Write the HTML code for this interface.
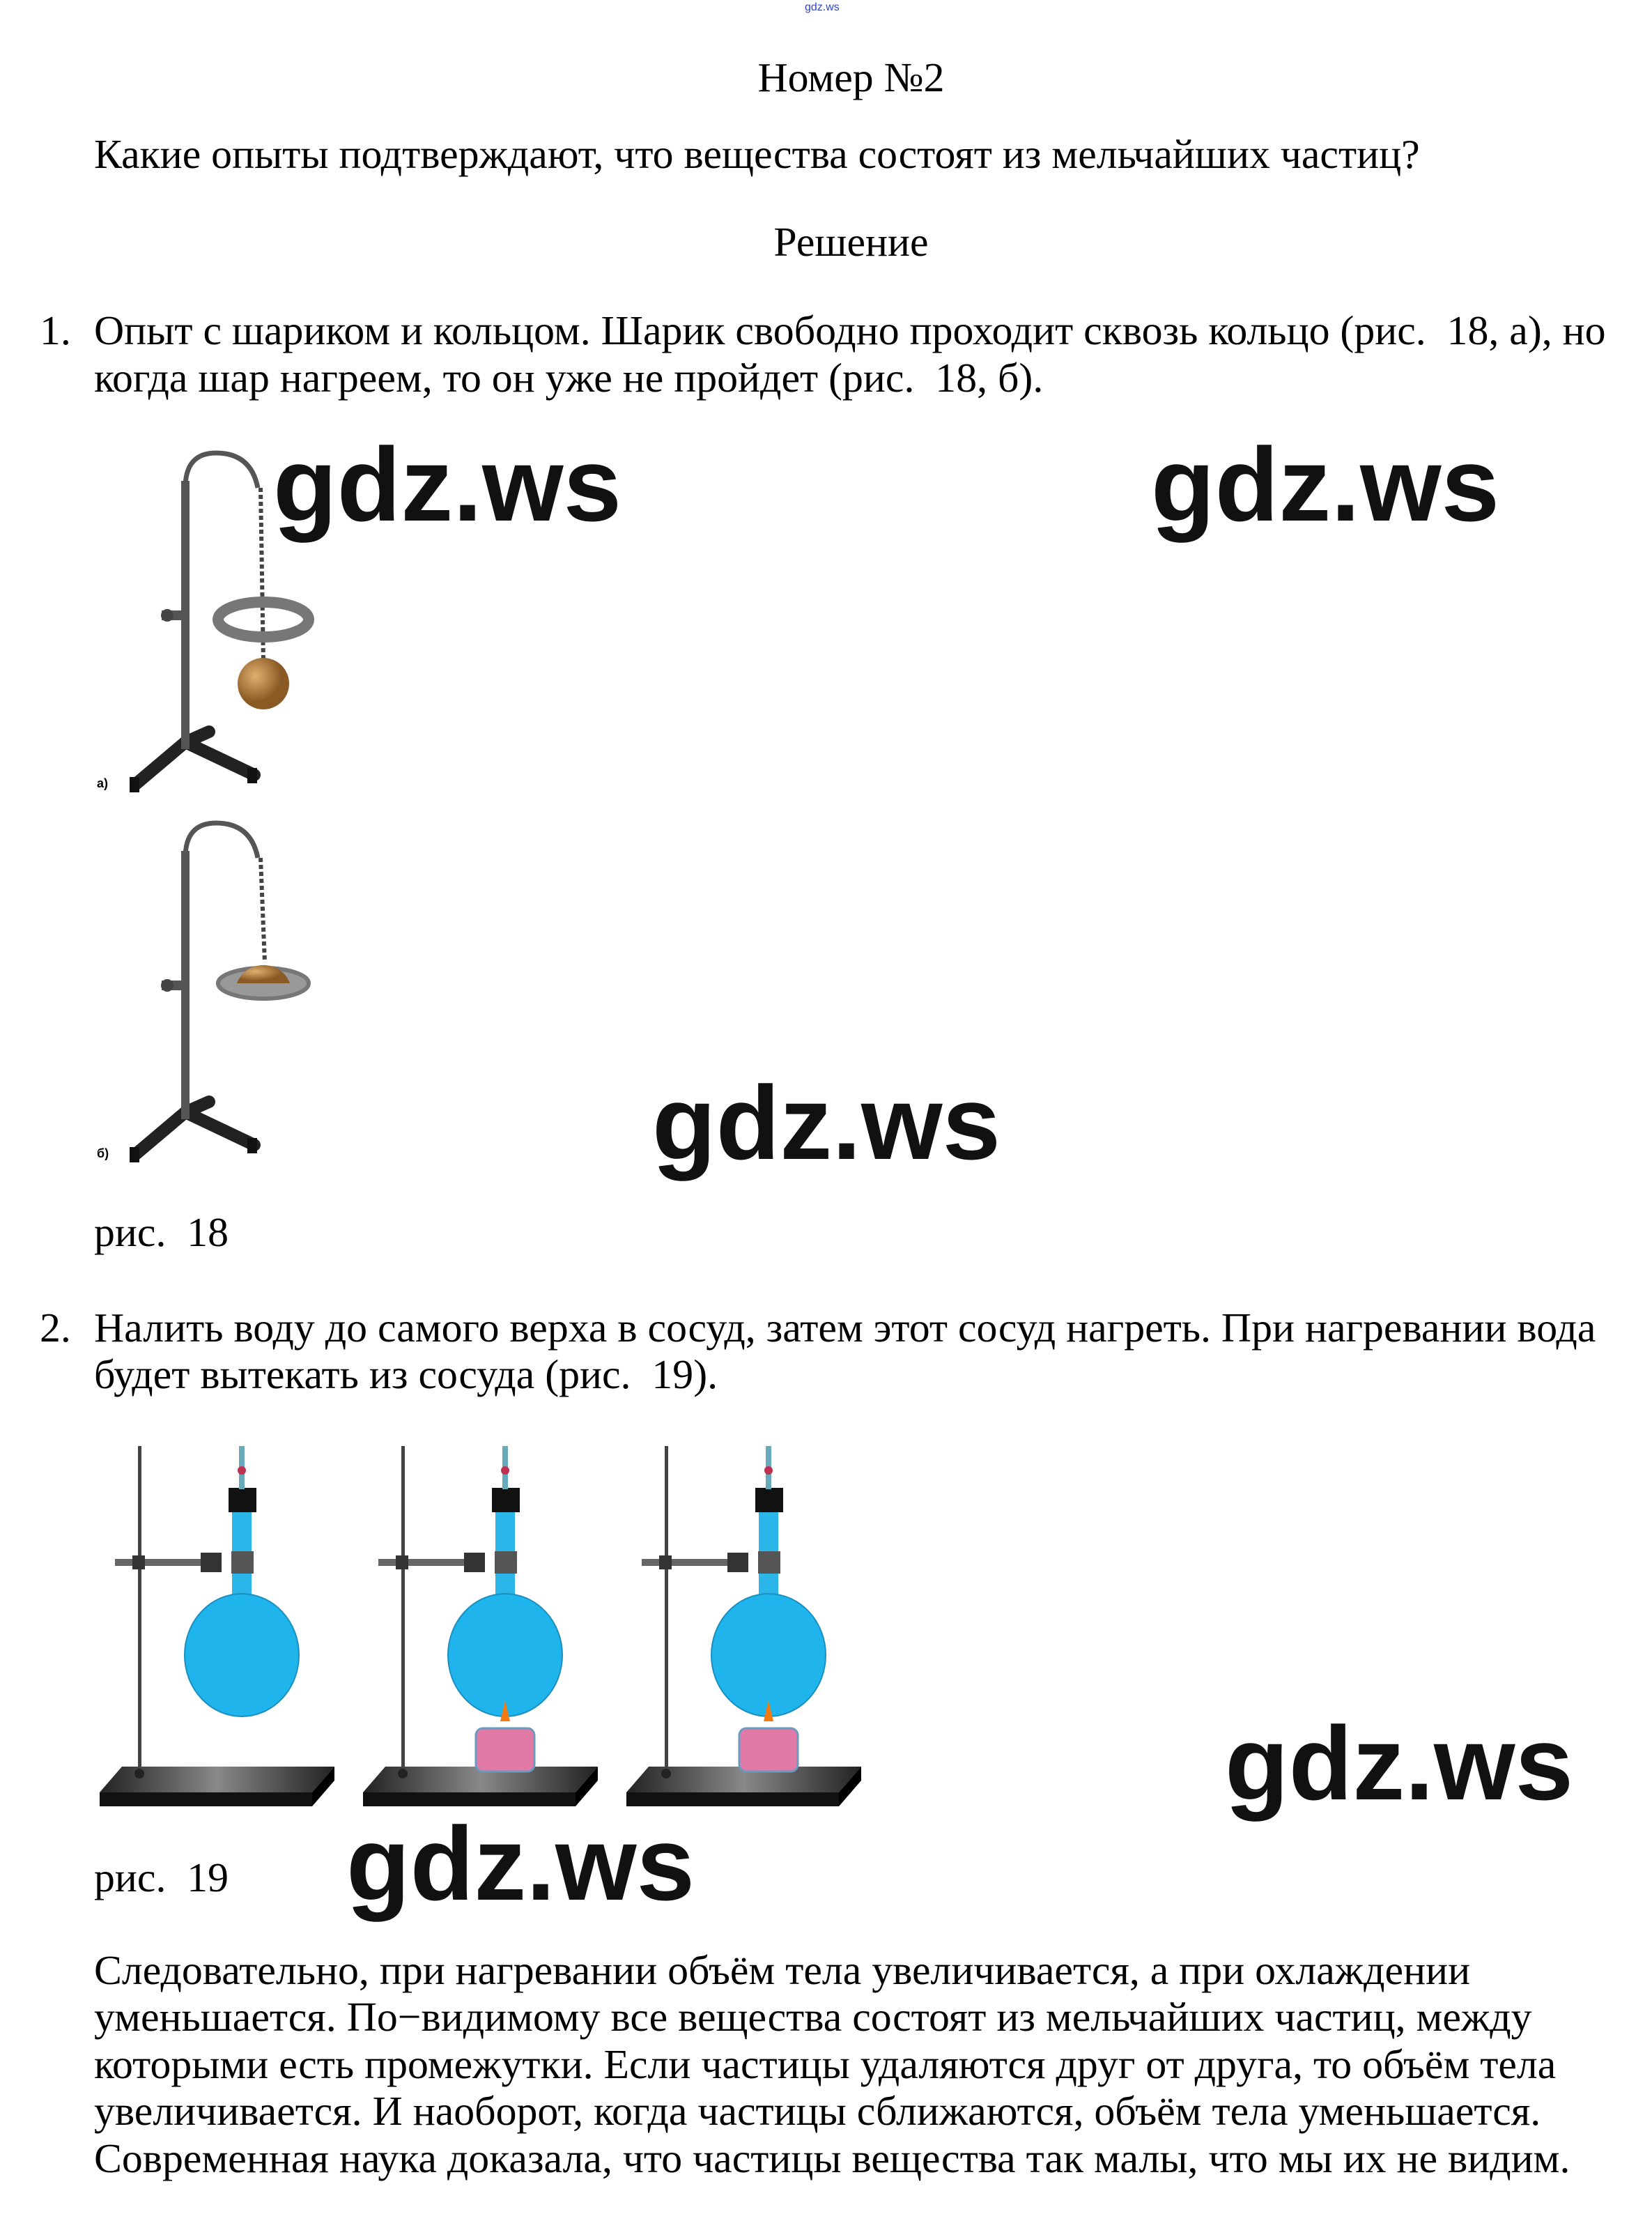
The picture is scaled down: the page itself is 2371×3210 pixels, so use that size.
<!DOCTYPE html>
<html><head><meta charset="utf-8"><style>
html,body{margin:0;padding:0;background:#fff}
body{width:2371px;height:3210px;position:relative;overflow:hidden;font-family:"Liberation Serif",serif;color:#000}
.t{position:absolute;font-size:59.8px;line-height:68px;white-space:nowrap}
.c{left:0;width:2371px;text-align:center}
.w{position:absolute;font-family:"Liberation Sans",sans-serif;font-weight:bold;font-size:150px;line-height:150px;white-space:nowrap;color:#111}
svg{position:absolute;left:0;top:0}
</style></head><body>
<div style="position:absolute;left:1155px;top:2px;font-size:16px;color:#3344cc;font-family:'Liberation Sans',sans-serif">gdz.ws</div>
<div class="t c" style="top:77px;left:36px">Номер №2</div>
<div class="t" style="left:135px;top:187px">Какие опыты подтверждают, что вещества состоят из мельчайших частиц?</div>
<div class="t c" style="top:313px;left:36px">Решение</div>
<div class="t" style="left:57px;top:440px">1.</div>
<div class="t" style="left:135px;top:440px">Опыт с шариком и кольцом. Шарик свободно проходит сквозь кольцо (рис.&nbsp; 18, а), но</div>
<div class="t" style="left:135px;top:508px">когда шар нагреем, то он уже не пройдет (рис.&nbsp; 18, б).</div>
<div class="t" style="left:135px;top:1734px">рис.&nbsp; 18</div>
<div class="t" style="left:57px;top:1871px">2.</div>
<div class="t" style="left:135px;top:1871px">Налить воду до самого верха в сосуд, затем этот сосуд нагреть. При нагревании вода</div>
<div class="t" style="left:135px;top:1938px">будет вытекать из сосуда (рис.&nbsp; 19).</div>
<div class="t" style="left:135px;top:2660px">рис.&nbsp; 19</div>
<div class="t" style="left:135px;top:2793px">Следовательно, при нагревании объём тела увеличивается, а при охлаждении</div>
<div class="t" style="left:135px;top:2860px">уменьшается. По−видимому все вещества состоят из мельчайших частиц, между</div>
<div class="t" style="left:135px;top:2928px">которыми есть промежутки. Если частицы удаляются друг от друга, то объём тела</div>
<div class="t" style="left:135px;top:2995px">увеличивается. И наоборот, когда частицы сближаются, объём тела уменьшается.</div>
<div class="t" style="left:135px;top:3063px">Современная наука доказала, что частицы вещества так малы, что мы их не видим.</div>

<svg width="2371" height="3210" viewBox="0 0 2371 3210">
<defs>
<radialGradient id="ball" cx="0.35" cy="0.35"><stop offset="0" stop-color="#e0b070"/><stop offset="1" stop-color="#8a5a25"/></radialGradient>
<linearGradient id="base" x1="0" x2="1"><stop offset="0" stop-color="#222"/><stop offset="0.5" stop-color="#888"/><stop offset="1" stop-color="#222"/></linearGradient>
<g id="s18">
<g stroke="#222" stroke-width="18" stroke-linecap="round" fill="none">
<line x1="266" y1="1065" x2="195" y2="1125"/>
<line x1="266" y1="1065" x2="365" y2="1112"/>
<line x1="266" y1="1065" x2="300" y2="1050"/>
</g>
<rect x="186" y="1115" width="14" height="22" fill="#111"/>
<rect x="355" y="1102" width="14" height="22" fill="#111"/>
<rect x="260" y="690" width="12" height="385" fill="#555"/>
<path d="M266 700 Q266 650 310 650 Q360 650 370 700" fill="none" stroke="#555" stroke-width="7"/>
<rect x="232" y="876" width="40" height="14" fill="#555"/>
<circle cx="240" cy="883" r="9" fill="#444"/>
</g>
</defs>
<use href="#s18"/>
<line x1="374" y1="700" x2="378" y2="950" stroke="#444" stroke-width="6" stroke-dasharray="6 4"/>
<ellipse cx="378" cy="889" rx="65" ry="25" fill="none" stroke="#777" stroke-width="16"/>
<circle cx="378" cy="981" r="37" fill="url(#ball)"/>
<text x="139" y="1130" font-family="Liberation Sans" font-weight="bold" font-size="18">а)</text>
<g transform="translate(0,531)"><use href="#s18"/>
<line x1="374" y1="700" x2="380" y2="850" stroke="#444" stroke-width="6" stroke-dasharray="6 4"/>
<ellipse cx="378" cy="880" rx="65" ry="22" fill="#999" stroke="#777" stroke-width="6"/>
<path d="M340 880 A40 38 0 0 1 416 880 Z" fill="url(#ball)"/>
<text x="139" y="1130" font-family="Liberation Sans" font-weight="bold" font-size="18">б)</text></g>
<g id="f1">
<path d="M143 2572 L175 2535 L480 2535 L448 2572 Z" fill="url(#base)"/>
<rect x="143" y="2572" width="305" height="20" fill="#111"/>
<path d="M448 2572 L480 2535 L480 2555 L448 2592 Z" fill="#000"/>
<rect x="198" y="2075" width="5" height="470" fill="#444"/>
<circle cx="200" cy="2545" r="7" fill="#222"/>
<rect x="165" y="2237" width="150" height="10" fill="#666"/>
<rect x="190" y="2232" width="18" height="20" fill="#333"/>
<rect x="288" y="2228" width="30" height="28" fill="#333"/>
<rect x="333" y="2150" width="28" height="180" fill="#2bb5e8"/>
<ellipse cx="347" cy="2375" rx="82" ry="88" fill="#1fb5ec" stroke="#1a8fc0" stroke-width="2"/>
<rect x="332" y="2226" width="32" height="32" fill="#555"/>
<rect x="328" y="2135" width="40" height="35" fill="#111"/>
<rect x="343" y="2075" width="8" height="62" fill="#6ab"/>
<circle cx="347" cy="2110" r="6" fill="#c03050"/>
</g>
<g transform="translate(378,0)"><use href="#f1"/>
<path d="M340 2470 L347 2440 L354 2470 Z" fill="#f27a10"/>
<rect x="305" y="2480" width="84" height="62" rx="10" fill="#e27aa8" stroke="#6a9ac0" stroke-width="3"/></g>
<g transform="translate(756,0)"><use href="#f1"/>
<path d="M340 2470 L347 2440 L354 2470 Z" fill="#f27a10"/>
<rect x="305" y="2480" width="84" height="62" rx="10" fill="#e27aa8" stroke="#6a9ac0" stroke-width="3"/></g>
</svg>

<div class="w" style="left:392px;top:620px">gdz.ws</div>
<div class="w" style="left:1652px;top:620px">gdz.ws</div>
<div class="w" style="left:936px;top:1536px">gdz.ws</div>
<div class="w" style="left:1758px;top:2455px">gdz.ws</div>
<div class="w" style="left:497px;top:2599px">gdz.ws</div>
</body></html>
